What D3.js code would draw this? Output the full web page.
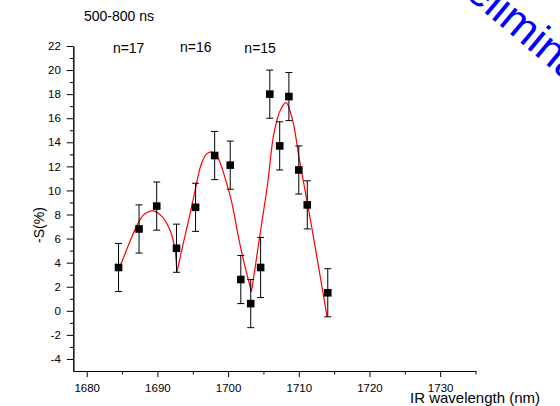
<!DOCTYPE html>
<html>
<head>
<meta charset="utf-8">
<script src="https://cdn.jsdelivr.net/npm/d3@7"></script>
<style>
  body { margin: 0; background: #fff; }
  svg text { font-family: "Liberation Sans", Arial, sans-serif; }
</style>
</head>
<body>
<div id="chart"></div>
<script>
var w = 560;
var h = 406;

// measured points
var wavelength = [1684.5, 1687.4, 1689.9, 1692.7, 1695.4, 1698.1, 1700.3, 1701.8,
                  1703.2, 1704.6, 1705.9, 1707.3, 1708.6, 1710.0, 1711.2, 1714.1];
var signal = [3.6, 6.8, 8.7, 5.2, 8.6, 12.9, 12.1, 2.6,
              0.6, 3.6, 18.0, 13.7, 17.8, 11.7, 8.8, 1.5];
var errBar = [2, 2, 2, 2, 2, 2, 2, 2, 2, 2.5, 2, 2, 2, 2, 2, 2];

// red fit, one piece per peak
var fitN17 = [[1684.6, 3.5], [1685.8, 5.3], [1687.2, 7.2], [1688.1, 8.0], [1689.4, 8.3],
              [1690.7, 7.8], [1691.9, 6.5], [1692.5, 5.0], [1692.75, 3.2]];
var fitN16 = [[1692.75, 3.2], [1693.7, 5.7], [1694.6, 8.0], [1695.4, 10.2], [1696.1, 12.0],
              [1696.9, 13.0], [1697.7, 13.2], [1698.4, 12.9], [1699.0, 12.1], [1699.7, 10.8],
              [1700.4, 9.3], [1700.9, 7.9], [1701.4, 6.3], [1702.3, 3.9], [1703.3, 1.6]];
var fitN15 = [[1703.3, 1.6], [1703.8, 3.5], [1704.4, 5.9], [1705.6, 10.6], [1706.5, 14.8],
              [1707.5, 16.8], [1708.2, 17.3], [1709.1, 15.9], [1710.1, 12.5], [1711.3, 8.7],
              [1712.7, 4.0], [1714.0, -0.5]];

var peakLabels = ["n=17", "n=16", "n=15"];
var peakLabelX = [1683.7, 1693.2, 1702.3];

var xMajor = [1680, 1690, 1700, 1710, 1720, 1730];
var xMinor = [1685, 1695, 1705, 1715, 1725, 1735];
var yMajor = [-4, -2, 0, 2, 4, 6, 8, 10, 12, 14, 16, 18, 20, 22];
var yMinor = [-3, -1, 1, 3, 5, 7, 9, 11, 13, 15, 17, 19, 21];

var x = d3.scaleLinear().domain([1678.1, 1735]).range([73.3, 475.5]);
var y = d3.scaleLinear().domain([-5, 22]).range([371, 46]);

var svg = d3.select("#chart")
            .append("svg")
            .attr("width", w)
            .attr("height", h);

// watermark
svg.append("text")
   .attr("transform", "translate(430,-33) rotate(40)")
   .attr("fill", "#0000ff")
   .style("font-size", "44px")
   .text("Preliminary");

// axes
function styleAxis(g) {
  g.select(".domain").attr("stroke", "#000");
  g.selectAll(".tick line").attr("stroke", "#000");
  g.selectAll(".tick text")
   .attr("fill", "#000")
   .style("font-family", "'Liberation Sans', Arial, sans-serif")
   .style("font-size", "11.5px");
}

var plain = function(d) { return String(d); };

svg.append("g")
   .attr("transform", "translate(0,371)")
   .call(d3.axisBottom(x).tickValues(xMinor).tickSize(3.5).tickSizeOuter(0).tickFormat(""))
   .call(styleAxis);

svg.append("g")
   .attr("transform", "translate(0,371)")
   .call(d3.axisBottom(x).tickValues(xMajor).tickSize(6).tickSizeOuter(0).tickPadding(7)
         .tickFormat(plain))
   .call(styleAxis);

svg.append("g")
   .attr("transform", "translate(73.3,0)")
   .call(d3.axisLeft(y).tickValues(yMinor).tickSize(3.5).tickSizeOuter(0).tickFormat(""))
   .call(styleAxis);

svg.append("g")
   .attr("transform", "translate(73.3,0)")
   .call(d3.axisLeft(y).tickValues(yMajor).tickSize(6.5).tickSizeOuter(0).tickPadding(6)
         .tickFormat(plain))
   .call(styleAxis);

// fit curves
var line = d3.line()
             .x(function(d) { return x(d[0]); })
             .y(function(d) { return y(d[1]); })
             .curve(d3.curveCatmullRom);

svg.selectAll("path.fit")
   .data([fitN17, fitN16, fitN15])
   .enter()
   .append("path")
   .attr("class", "fit")
   .attr("fill", "none")
   .attr("stroke", "#ff0000")
   .attr("stroke-width", 1.2)
   .attr("d", line);

// error bars
var pts = wavelength.map(function(d, i) {
  return { x: d, y: signal[i], e: errBar[i] };
});

var bars = svg.selectAll("g.err")
              .data(pts)
              .enter()
              .append("g")
              .attr("class", "err")
              .attr("stroke", "#000")
              .attr("stroke-width", 1);

bars.append("line")
    .attr("x1", function(d) { return x(d.x); })
    .attr("x2", function(d) { return x(d.x); })
    .attr("y1", function(d) { return y(d.y + d.e); })
    .attr("y2", function(d) { return y(d.y - d.e); });

bars.append("line")
    .attr("x1", function(d) { return x(d.x) - 3.5; })
    .attr("x2", function(d) { return x(d.x) + 3.5; })
    .attr("y1", function(d) { return y(d.y + d.e); })
    .attr("y2", function(d) { return y(d.y + d.e); });

bars.append("line")
    .attr("x1", function(d) { return x(d.x) - 3.5; })
    .attr("x2", function(d) { return x(d.x) + 3.5; })
    .attr("y1", function(d) { return y(d.y - d.e); })
    .attr("y2", function(d) { return y(d.y - d.e); });

// squares
svg.selectAll("rect.pt")
   .data(pts)
   .enter()
   .append("rect")
   .attr("class", "pt")
   .attr("x", function(d) { return x(d.x) - 3.8; })
   .attr("y", function(d) { return y(d.y) - 3.8; })
   .attr("width", 7.6)
   .attr("height", 7.6)
   .attr("fill", "#000");

// labels
svg.append("text")
   .attr("x", 84)
   .attr("y", 20.5)
   .style("font-size", "14px")
   .text("500-800 ns");

var labelY = [53, 51.5, 52.7];
svg.selectAll("text.peak")
   .data(peakLabels)
   .enter()
   .append("text")
   .attr("class", "peak")
   .attr("x", function(d, i) { return x(peakLabelX[i]); })
   .attr("y", function(d, i) { return labelY[i]; })
   .style("font-size", "14px")
   .text(function(d) { return d; });

svg.append("text")
   .attr("transform", "translate(44,225) rotate(-90)")
   .attr("text-anchor", "middle")
   .style("font-size", "14px")
   .text("-S(%)");

svg.append("text")
   .attr("x", 410)
   .attr("y", 402.7)
   .style("font-size", "15px")
   .text("IR wavelength (nm)");
</script>
</body>
</html>
